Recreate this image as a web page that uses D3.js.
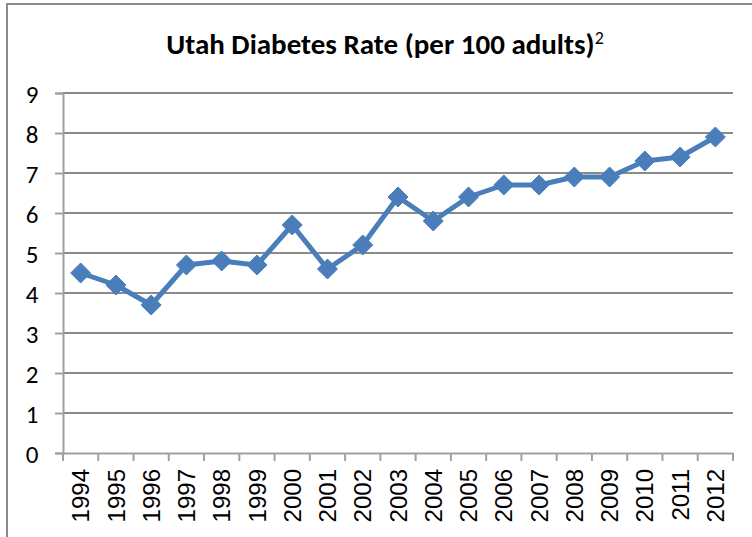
<!DOCTYPE html>
<html><head><meta charset="utf-8">
<script src="https://cdn.jsdelivr.net/npm/d3@7"></script>
<style>body{margin:0;background:#fff}svg{display:block}</style>
</head><body>
<script>
const years = ["1994","1995","1996","1997","1998","1999","2000","2001","2002","2003","2004","2005","2006","2007","2008","2009","2010","2011","2012"];
const rates = [4.5,4.2,3.7,4.7,4.8,4.7,5.7,4.6,5.2,6.4,5.8,6.4,6.7,6.7,6.9,6.9,7.3,7.4,7.9];
const yTicks = [0,1,2,3,4,5,6,7,8,9];
const titleText = "Utah Diabetes Rate (per 100 adults)";
const titleSup = "2";

const W = 752, H = 537;
const svg = d3.select("body").append("svg").attr("width", W).attr("height", H);

// frame
svg.append("path").attr("d", `M7,${H} L7,4 L${W},4`).attr("fill","none").attr("stroke","#8c8c8c").attr("stroke-width",2);

const m = {left:63, right:733, top:93, bottom:453};
const x = d3.scaleBand().domain(years).range([m.left, m.right]).padding(0);
const y = d3.scaleLinear().domain([0,9]).range([m.bottom, m.top]);

const gridColor = "#8a8a8a";
svg.append("g").selectAll("line").data(yTicks.filter(d=>d>0)).join("line")
  .attr("x1", m.left).attr("x2", m.right).attr("y1", d=>y(d)).attr("y2", d=>y(d))
  .attr("stroke", gridColor).attr("stroke-width", 2);

// y axis
const yAxis = svg.append("g").attr("transform", `translate(${m.left},0)`)
  .call(d3.axisLeft(y).tickValues(yTicks).tickSize(8).tickPadding(0).tickFormat(d3.format("d")));
yAxis.select(".domain").attr("stroke", "#a0a0a0").attr("stroke-width", 2);
yAxis.selectAll(".tick line").attr("stroke", "#a0a0a0").attr("stroke-width", 2);
yAxis.selectAll("text").attr("x", -31).attr("text-anchor","middle").attr("dy","0.36em")
  .attr("font-family", "Carlito, Lato, 'Open Sans', sans-serif").attr("font-size", 25).attr("fill","#000");

// x axis
const xAxis = svg.append("g").attr("transform", `translate(0,${m.bottom})`)
  .call(d3.axisBottom(x).tickSize(0));
xAxis.select(".domain").attr("stroke", "#a0a0a0").attr("stroke-width", 2);
const bounds = years.map(d => x(d)).concat([x(years[years.length-1]) + x.bandwidth()]);
svg.append("g").selectAll("line").data(bounds).join("line")
  .attr("x1", d=>d).attr("x2", d=>d).attr("y1", m.bottom).attr("y2", m.bottom+8)
  .attr("stroke", "#a0a0a0").attr("stroke-width", 2);
xAxis.selectAll(".tick text")
  .attr("transform", "rotate(-90)")
  .attr("x", -16).attr("y", 0).attr("dy", "0.36em")
  .attr("text-anchor", "end")
  .attr("font-family", "'Liberation Sans', Arial, sans-serif").attr("font-size", 24).attr("fill","#000");

// line
const cx = d => x(d) + x.bandwidth()/2;
const color = "#4a7ebb";
svg.append("path").datum(years.map((d,i)=>[cx(d), y(rates[i])]))
  .attr("d", d3.line()).attr("fill","none").attr("stroke", color).attr("stroke-width", 5).attr("stroke-linejoin","round");

svg.append("g").selectAll("path").data(years).join("path")
  .attr("transform", (d,i)=>`translate(${cx(d)},${y(rates[i])})`)
  .attr("d", "M0,-10L10,0L0,10L-10,0Z")
  .attr("fill", color).attr("stroke", color).attr("stroke-width", 1);

// title
const t = svg.append("text").attr("x", 385).attr("y", 54).attr("text-anchor","middle")
  .attr("font-family", "Carlito, Lato, 'Open Sans', sans-serif").attr("font-weight","bold").attr("font-size", 29).attr("fill","#000");
t.append("tspan").text(titleText);
t.append("tspan").text(titleSup).attr("font-weight","normal").attr("font-size", 18).attr("dy", -10);
</script>
</body></html>
